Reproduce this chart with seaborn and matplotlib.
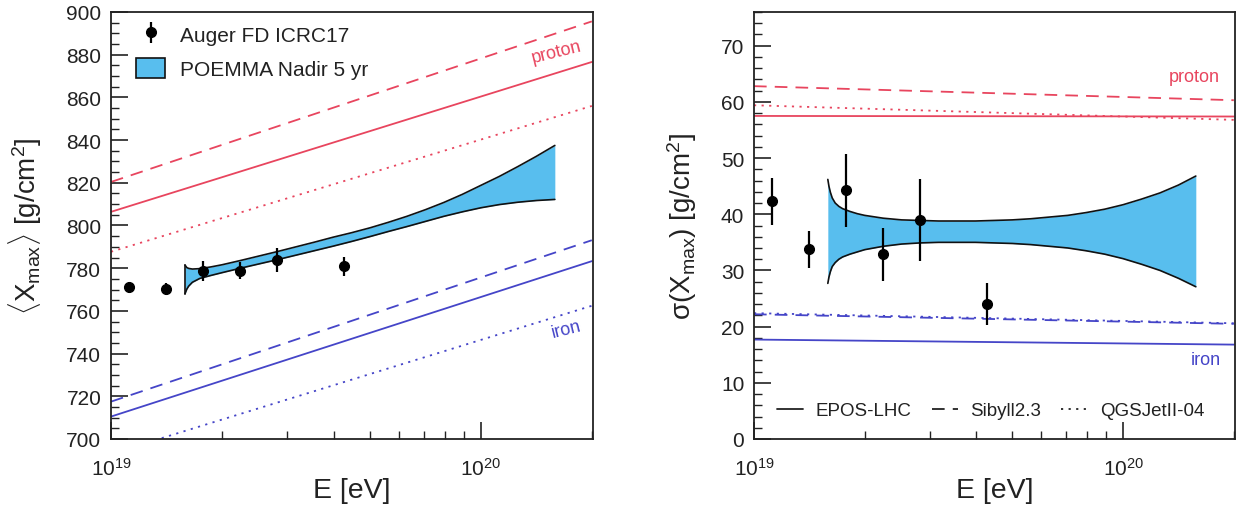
import numpy as np
import pandas as pd
import matplotlib
matplotlib.use("Agg")
import matplotlib.pyplot as plt
from matplotlib.ticker import LogLocator, NullFormatter, MultipleLocator, LogFormatterSciNotation
from matplotlib.patches import Patch
from matplotlib.lines import Line2D
import seaborn as sns

# ---- Auger FD ICRC17 measurements (log10 E/eV) ----
auger_logE = [19.05, 19.15, 19.25, 19.35, 19.45, 19.63]
auger_xmax = [771.1, 770.3, 778.6, 778.9, 783.9, 780.8]
auger_xmax_err = [2.5, 3.0, 4.7, 4.1, 5.7, 4.3]
auger_sigma = [42.3, 33.8, 44.3, 32.9, 38.9, 24.0]
auger_sigma_err = [4.2, 3.3, 6.5, 4.7, 7.3, 3.7]

# ---- hadronic model predictions at the ends of the energy range ----
model_logE = [19.0, 20.3]
models = ["EPOS-LHC", "Sibyll2.3", "QGSJetII-04"]
xmax_proton = {"EPOS-LHC": [806.4, 876.6], "Sibyll2.3": [820.4, 895.6], "QGSJetII-04": [787.7, 856.0]}
xmax_iron = {"EPOS-LHC": [710.5, 783.3], "Sibyll2.3": [717.5, 793.1], "QGSJetII-04": [693.1, 762.4]}
sigma_proton = {"EPOS-LHC": [57.5, 57.4], "Sibyll2.3": [62.8, 60.3], "QGSJetII-04": [59.4, 56.8]}
sigma_iron = {"EPOS-LHC": [17.7, 16.8], "Sibyll2.3": [22.2, 20.5], "QGSJetII-04": [22.4, 20.6]}

# ---- POEMMA Nadir 5 yr projected uncertainty bands ----
band_xmax_logE = [19.200, 19.205, 19.21, 19.22, 19.24, 19.27, 19.30, 19.35, 19.40, 19.45,
                  19.50, 19.55, 19.60, 19.65, 19.70, 19.75, 19.80, 19.85, 19.90, 19.95,
                  20.00, 20.05, 20.10, 20.15, 20.20]
band_xmax_hi = [781.5, 780.3, 779.9, 779.6, 779.8, 780.6, 781.6, 783.6, 785.7, 787.8,
                790.0, 792.2, 794.5, 796.6, 798.9, 801.5, 804.3, 807.4, 810.8, 814.6,
                818.8, 823.0, 827.6, 832.4, 837.5]
band_xmax_lo = [768.0, 770.2, 771.6, 773.4, 775.2, 776.6, 777.9, 780.0, 782.0, 784.0,
                786.1, 788.2, 790.3, 792.5, 794.8, 797.2, 799.5, 801.9, 804.3, 806.4,
                808.3, 809.8, 810.9, 811.7, 812.2]

band_sigma_logE = [19.200, 19.203, 19.207, 19.212, 19.22, 19.23, 19.24, 19.26, 19.28, 19.30,
                   19.35, 19.40, 19.45, 19.50, 19.55, 19.60, 19.65, 19.70, 19.75, 19.80,
                   19.85, 19.90, 19.95, 20.00, 20.05, 20.10, 20.15, 20.197]
band_sigma_hi = [46.2, 45.0, 43.9, 42.9, 42.0, 41.4, 41.0, 40.5, 40.1, 39.8,
                 39.3, 39.0, 38.9, 38.8, 38.8, 38.8, 38.9, 39.0, 39.2, 39.5,
                 39.8, 40.3, 40.9, 41.7, 42.7, 43.8, 45.2, 46.8]
band_sigma_lo = [27.7, 28.8, 29.8, 30.7, 31.4, 32.0, 32.4, 32.9, 33.3, 33.7,
                 34.3, 34.7, 34.9, 35.0, 35.0, 35.0, 34.9, 34.8, 34.6, 34.3,
                 34.0, 33.5, 32.9, 32.1, 31.1, 30.0, 28.6, 27.1]

RED = "#E8455E"
BLUE = "#4545C8"
BAND = "#58BEEE"
INK = "#222222"
DASH = {"EPOS-LHC": "", "Sibyll2.3": (7, 4.5), "QGSJetII-04": (1.2, 3.0)}

sns.set_theme(style="ticks")
plt.rcParams["font.family"] = ["Liberation Sans", "DejaVu Sans"]
plt.rcParams["mathtext.fontset"] = "custom"
plt.rcParams["mathtext.rm"] = "Liberation Sans"
plt.rcParams["mathtext.it"] = "Liberation Sans:italic"
plt.rcParams["mathtext.bf"] = "Liberation Sans:bold"


def model_frame(proton, iron):
    rows = []
    for prim, table in (("proton", proton), ("iron", iron)):
        for m in models:
            for lg, v in zip(model_logE, table[m]):
                rows.append({"E": 10 ** lg, "value": v, "model": m, "primary": prim})
    return pd.DataFrame(rows)


def style_axis(ax, ylim, major, minor):
    ax.set_xscale("log")
    ax.set_xlim(1e19, 2.01e20)
    ax.set_ylim(*ylim)
    ax.xaxis.set_major_locator(LogLocator(base=10, numticks=10))
    ax.xaxis.set_major_formatter(LogFormatterSciNotation())
    ax.xaxis.set_minor_locator(LogLocator(base=10, subs=np.arange(2, 10), numticks=10))
    ax.xaxis.set_minor_formatter(NullFormatter())
    ax.yaxis.set_major_locator(MultipleLocator(major))
    ax.yaxis.set_minor_locator(MultipleLocator(minor))
    ax.tick_params(which="both", direction="in", top=False, right=False, colors=INK,
                   labelcolor=INK)
    ax.tick_params(axis="y", which="major", length=12, width=1.2, labelsize=15, pad=7)
    ax.tick_params(axis="y", which="minor", length=6, width=1.0)
    ax.tick_params(axis="x", which="major", length=12, width=1.2, labelsize=15, pad=13)
    ax.tick_params(axis="x", which="minor", length=6, width=1.0)
    for sp in ax.spines.values():
        sp.set_visible(True)
        sp.set_linewidth(1.3)
        sp.set_color(INK)
    ax.set_xlabel("E [eV]", fontsize=20.5, color=INK)
    ax.xaxis.set_label_coords(0.5, -0.088)


fig = plt.figure(figsize=(12.47, 5.10), dpi=100)
axL = fig.add_axes([111 / 1247, 70 / 510, 482 / 1247, 427 / 510])
axR = fig.add_axes([754 / 1247, 70 / 510, 481 / 1247, 427 / 510])

# ---------------- left: mean Xmax ----------------
dfL = model_frame(xmax_proton, xmax_iron)
sns.lineplot(data=dfL, x="E", y="value", hue="primary", style="model",
             palette={"proton": RED, "iron": BLUE}, dashes=DASH, linewidth=1.3,
             legend=False, ax=axL)

eL = 10 ** np.array(band_xmax_logE)
axL.fill_between(eL, band_xmax_lo, band_xmax_hi, color=BAND, lw=0, zorder=3)
axL.plot(eL, band_xmax_hi, color="#111111", lw=1.2, zorder=4)
axL.plot(eL, band_xmax_lo, color="#111111", lw=1.2, zorder=4)
axL.plot([eL[0], eL[0]], [band_xmax_lo[0], band_xmax_hi[0]], color="#111111", lw=1.2, zorder=4)

ebL = axL.errorbar(10 ** np.array(auger_logE), auger_xmax, yerr=auger_xmax_err, fmt="o",
                   color="black", ms=7, elinewidth=1.6, capsize=0, zorder=5)

axL.text(10 ** 20.205, 881.5, "proton", color=RED, fontsize=13, rotation=14,
         ha="center", va="center")
axL.text(10 ** 20.23, 751.5, "iron", color=BLUE, fontsize=13, rotation=14,
         ha="center", va="center")

style_axis(axL, (700, 900), 20, 5)
axL.set_ylabel(r"$\langle$X$_{\rm max}\rangle$ [g/cm$^2$]", fontsize=20, color=INK)
axL.yaxis.set_label_coords(-0.138, 0.5)

legL = axL.legend(handles=[ebL, Patch(facecolor=BAND, edgecolor="#111111", lw=1.2)],
                  labels=["Auger FD ICRC17", "POEMMA Nadir 5 yr"],
                  loc="upper left", bbox_to_anchor=(0.052, 0.972), frameon=False,
                  fontsize=15, handlelength=1.4, handleheight=1.1, handletextpad=0.7,
                  labelspacing=0.6, borderpad=0, borderaxespad=0)
for t in legL.get_texts():
    t.set_color(INK)

# ---------------- right: sigma(Xmax) ----------------
dfR = model_frame(sigma_proton, sigma_iron)
sns.lineplot(data=dfR, x="E", y="value", hue="primary", style="model",
             palette={"proton": RED, "iron": BLUE}, dashes=DASH, linewidth=1.3,
             legend=False, ax=axR)

eR = 10 ** np.array(band_sigma_logE)
axR.fill_between(eR, band_sigma_lo, band_sigma_hi, color=BAND, lw=0, zorder=3)
axR.plot(eR, band_sigma_hi, color="#111111", lw=1.2, zorder=4)
axR.plot(eR, band_sigma_lo, color="#111111", lw=1.2, zorder=4)

axR.errorbar(10 ** np.array(auger_logE), auger_sigma, yerr=auger_sigma_err, fmt="o",
             color="black", ms=7, elinewidth=1.6, capsize=0, zorder=5)

axR.text(10 ** 20.194, 64.6, "proton", color=RED, fontsize=13, ha="center", va="center")
axR.text(10 ** 20.225, 14.2, "iron", color=BLUE, fontsize=13, ha="center", va="center")

style_axis(axR, (0, 76), 10, 2)
axR.set_ylabel("σ(X$_{\\rm max}$) [g/cm$^2$]", fontsize=20, color=INK)
axR.yaxis.set_label_coords(-0.115, 0.5)

model_handles = [Line2D([], [], color=INK, lw=1.3, linestyle="-"),
                 Line2D([], [], color=INK, lw=1.3, dashes=DASH["Sibyll2.3"]),
                 Line2D([], [], color=INK, lw=1.3, dashes=DASH["QGSJetII-04"])]
legR = axR.legend(handles=model_handles, labels=models, ncol=3, loc="center left",
                  bbox_to_anchor=(0.047, 0.066), frameon=False, fontsize=13.5,
                  handlelength=1.4, handletextpad=0.65, columnspacing=1.1,
                  borderpad=0, borderaxespad=0)
for t in legR.get_texts():
    t.set_color(INK)

fig.savefig("out.png", dpi=100)
